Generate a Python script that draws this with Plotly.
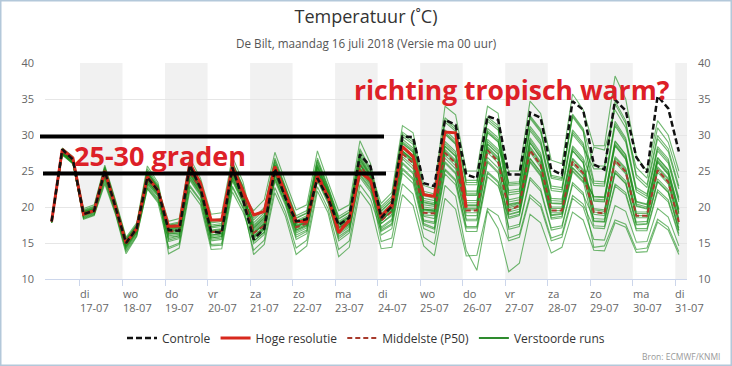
import pandas as pd
import plotly.graph_objects as go

# ---------------- data ----------------
tijden = pd.date_range("2018-07-16 08:00", periods=60, freq="6h")
dag_tikken = pd.date_range("2018-07-17", "2018-07-31", freq="D")
dag_namen = ["di", "wo", "do", "vr", "za", "zo", "ma", "di", "wo", "do", "vr", "za", "zo", "ma", "di"]
dag_datums = ["17-07", "18-07", "19-07", "20-07", "21-07", "22-07", "23-07", "24-07",
              "25-07", "26-07", "27-07", "28-07", "29-07", "30-07", "31-07"]
grijze_dagen = ["2018-07-17", "2018-07-19", "2018-07-21", "2018-07-23",
                "2018-07-25", "2018-07-27", "2018-07-29", "2018-07-31"]
y_ticks = [10, 15, 20, 25, 30, 35, 40]

controle = [18.0, 28.0, 26.6, 19.0, 19.5, 25.0, 20.0, 15.0, 17.0, 24.1, 22.3,
            16.8, 16.7, 25.8, 22.6, 16.6, 16.4, 25.5, 21.0, 15.5, 17.0,
            25.3, 21.2, 18.0, 18.3, 24.0, 21.2, 17.5, 18.5, 27.3, 25.6,
            18.5, 20.1, 29.8, 29.7, 23.3, 22.9, 32.1, 31.4, 24.5, 24.0,
            32.6, 32.1, 24.5, 24.5, 33.1, 32.4, 25.2, 24.5, 34.7, 33.5,
            25.9, 25.2, 34.9, 33.4, 26.9, 24.8, 35.4, 33.7, 27.7]

hoge_resolutie = [18.0, 28.0, 26.8, 19.0, 19.5, 25.0, 20.0, 15.0, 17.0, 24.2, 22.3,
                  17.3, 17.4, 26.0, 23.3, 18.2, 18.2, 25.6, 22.2, 18.9, 19.4,
                  25.6, 21.9, 18.0, 18.0, 24.3, 21.4, 16.4, 18.2, 24.9, 23.7,
                  18.7, 20.3, 28.4, 27.0, 21.7, 21.5, 30.4, 30.3, 19.9]

middelste = [18.0, 27.8, 26.5, 19.1, 19.5, 24.8, 20.0, 15.0, 16.9, 24.0, 22.2,
             16.6, 16.7, 24.9, 22.5, 16.5, 16.7, 25.0, 21.6, 16.4, 17.4,
             25.0, 21.5, 17.2, 17.7, 24.8, 21.6, 17.0, 17.9, 25.8, 23.7,
             18.1, 19.4, 27.4, 26.1, 19.2, 19.1, 27.5, 26.1, 19.5, 19.5,
             27.9, 26.3, 19.5, 20.2, 27.9, 25.8, 19.5, 19.5, 26.3, 24.7,
             19.3, 19.1, 26.5, 24.9, 18.8, 18.8, 25.1, 23.5, 17.9]

verstoorde_runs = [
    [18.1, 27.8, 26.3, 19.2, 19.6, 24.6, 19.8, 14.6, 16.8, 23.6, 21.8,
     16.3, 16.4, 24.6, 22.3, 16.1, 16.3, 24.6, 21.3,
     15.6, 16.8, 24.3, 20.9, 16.4, 17.1, 24.2, 21.1, 16.2, 17.2, 24.9, 22.9,
     15.2, 15.7, 23.2, 21.8, 15.8, 14.8, 23.0, 21.5, 14.0, 11.2, 19.5, 17.0,
     11.0, 12.2, 19.0, 17.8, 13.6, 14.4, 19.3, 18.2,
     14.0, 13.9, 17.8, 17.2, 13.7, 13.8, 17.9, 16.8, 13.4],
    [17.9, 27.5, 26.1, 18.8, 19.3, 24.2, 19.6, 14.3, 16.5, 23.2, 21.5,
     15.2, 15.6, 23.7, 21.5, 15.3, 15.5, 23.6, 20.5,
     13.4, 14.8, 22.0, 18.7, 13.4, 14.6, 22.2, 19.2, 13.1, 14.4, 22.2, 20.2,
     14.2, 14.4, 21.7, 20.2, 14.6, 13.2, 21.2, 19.7, 13.2, 13.3, 19.8, 18.8,
     15.3, 15.8, 21.3, 20.0, 15.3, 15.8, 21.2, 20.0,
     15.5, 15.4, 20.2, 19.4, 15.1, 15.2, 19.8, 18.6, 14.6],
    [18.0, 27.9, 26.6, 19.0, 19.4, 24.9, 20.1, 15.1, 17.1, 24.3, 22.4,
     14.2, 14.8, 22.8, 20.8, 14.6, 14.7, 22.7, 19.8,
     14.0, 15.4, 22.7, 19.3, 14.3, 15.4, 22.8, 19.8, 14.1, 15.3, 23.1, 21.1,
     16.6, 17.5, 25.2, 23.8, 17.5, 16.9, 25.1, 23.6, 17.1, 17.1, 24.7, 23.4,
     17.2, 17.6, 24.1, 22.5, 17.1, 17.4, 23.4, 22.0,
     14.4, 14.6, 18.2, 17.6, 14.1, 14.3, 18.3, 17.2, 13.8],
    [18.2, 27.6, 26.4, 19.4, 19.8, 25.3, 20.3, 15.3, 17.3, 24.6, 22.6,
     16.0, 16.2, 24.4, 22.1, 15.9, 16.1, 24.3, 21.1,
     14.9, 16.2, 23.6, 20.2, 15.5, 16.3, 23.6, 20.5, 15.3, 16.4, 24.1, 22.1,
     17.2, 18.3, 26.2, 24.8, 18.2, 17.9, 26.3, 24.8, 18.3, 18.3, 26.4, 24.9,
     15.7, 16.2, 21.7, 20.4, 15.7, 16.2, 21.6, 20.4,
     17.1, 17.0, 22.9, 21.7, 16.7, 16.7, 22.1, 20.7, 16.0],
    [17.8, 27.2, 26.0, 18.5, 19.0, 23.8, 19.3, 14.0, 16.2, 23.0, 21.2,
     16.8, 17.0, 25.2, 22.8, 16.8, 17.0, 25.2, 21.9,
     16.0, 17.2, 24.8, 21.3, 17.0, 17.6, 24.6, 21.5, 16.8, 17.8, 25.5, 23.5,
     16.1, 17.0, 24.7, 23.3, 17.0, 16.4, 24.6, 23.1, 16.6, 16.6, 24.2, 22.9,
     18.6, 19.0, 26.4, 24.5, 18.5, 18.7, 25.1, 23.6,
     17.4, 17.3, 23.2, 22.0, 17.0, 17.0, 22.4, 21.0, 16.3],
    [18.0, 27.7, 26.5, 19.1, 19.5, 25.0, 20.0, 14.9, 17.0, 24.0, 22.2,
     13.5, 14.3, 22.3, 20.3, 14.1, 14.2, 22.1, 19.3,
     15.2, 16.5, 23.9, 20.5, 15.8, 16.6, 23.9, 20.8, 15.6, 16.7, 24.4, 22.4,
     18.1, 19.4, 27.4, 26.1, 19.3, 19.2, 27.6, 26.1, 19.6, 19.6, 28.0, 26.5,
     16.9, 17.3, 23.8, 22.2, 16.8, 17.1, 23.1, 21.7,
     18.4, 18.3, 25.1, 23.6, 17.9, 18.0, 23.9, 22.4, 17.1],
    [18.3, 28.1, 26.8, 19.5, 20.0, 25.5, 20.6, 15.5, 17.5, 25.0, 22.9,
     17.2, 17.4, 25.7, 23.2, 17.5, 17.7, 25.8, 22.4,
     16.7, 18.0, 25.4, 21.7, 17.5, 18.1, 25.2, 21.9, 17.3, 18.3, 26.2, 24.0,
     17.7, 18.8, 26.7, 25.3, 18.7, 18.4, 26.8, 25.3, 18.8, 18.8, 26.9, 25.4,
     19.6, 20.0, 27.9, 25.8, 19.5, 19.5, 26.3, 24.7,
     18.1, 18.0, 24.8, 23.3, 17.6, 17.7, 23.6, 22.1, 16.8],
    [17.9, 27.4, 26.2, 18.7, 19.2, 24.4, 19.7, 14.5, 16.6, 23.4, 21.9,
     16.7, 16.8, 25.0, 22.7, 16.5, 16.7, 25.0, 21.7,
     15.8, 17.0, 24.6, 21.1, 16.8, 17.4, 24.4, 21.3, 16.6, 17.6, 25.3, 23.3,
     18.5, 19.8, 28.1, 26.9, 20.0, 19.8, 28.8, 27.4, 20.6, 20.6, 29.1, 27.7,
     18.9, 19.3, 26.7, 24.8, 18.8, 19.0, 25.4, 23.9,
     19.3, 19.1, 26.5, 24.9, 18.8, 18.8, 25.1, 23.5, 17.9],
    [18.1, 27.8, 26.7, 19.3, 19.7, 24.8, 20.2, 15.2, 17.2, 24.8, 22.8,
     16.2, 16.4, 24.6, 22.3, 16.1, 16.3, 24.5, 21.3,
     17.5, 18.9, 26.0, 22.3, 18.1, 18.8, 26.0, 22.4, 18.0, 18.9, 27.1, 24.6,
     17.7, 19.0, 27.0, 25.7, 18.9, 18.8, 27.2, 25.7, 19.2, 19.2, 27.6, 26.1,
     20.7, 21.0, 29.3, 27.2, 20.9, 20.8, 28.2, 26.5,
     19.6, 19.4, 26.8, 25.2, 19.1, 19.1, 25.4, 23.8, 18.2],
    [18.0, 27.6, 26.3, 18.9, 19.4, 24.7, 19.9, 14.8, 16.9, 23.8, 22.0,
     17.6, 17.9, 26.2, 23.6, 18.2, 18.4, 26.3, 22.9,
     15.8, 17.0, 24.5, 21.1, 16.6, 17.3, 24.4, 21.3, 16.4, 17.4, 25.1, 23.1,
     18.2, 19.5, 27.8, 26.6, 19.7, 19.5, 28.5, 27.1, 20.3, 20.3, 28.8, 27.4,
     19.9, 20.3, 28.2, 26.1, 19.8, 19.8, 26.6, 25.0,
     21.1, 21.0, 28.8, 26.9, 20.4, 20.0, 26.5, 24.8, 19.3],
    [18.2, 28.0, 26.9, 19.6, 20.1, 25.6, 20.8, 15.6, 17.6, 25.3, 23.1,
     16.6, 16.8, 25.0, 22.6, 16.6, 16.8, 25.0, 21.7,
     16.9, 18.2, 25.6, 21.9, 17.7, 18.3, 25.4, 22.1, 17.5, 18.5, 26.4, 24.2,
     19.1, 20.5, 29.1, 27.9, 20.9, 20.6, 30.4, 29.0, 21.9, 21.9, 30.6, 29.3,
     20.4, 20.7, 29.0, 26.9, 20.6, 20.5, 27.9, 26.2,
     19.0, 18.8, 26.2, 24.6, 18.5, 18.5, 24.8, 23.2, 17.6],
    [17.9, 27.3, 26.0, 18.6, 19.1, 24.1, 19.5, 14.2, 16.4, 22.8, 21.0,
     15.4, 15.8, 23.9, 21.7, 15.5, 15.7, 23.8, 20.7,
     18.5, 19.9, 26.8, 22.8, 18.8, 19.5, 26.8, 22.9, 18.7, 19.6, 28.1, 25.3,
     18.3, 19.6, 27.6, 26.3, 19.5, 19.4, 27.8, 26.3, 19.8, 19.8, 28.2, 26.7,
     22.0, 22.2, 30.9, 29.0, 22.6, 22.4, 30.4, 28.6,
     20.8, 20.7, 28.5, 26.6, 20.1, 19.7, 26.2, 24.5, 19.0],
    [18.0, 27.7, 26.4, 19.0, 19.5, 25.1, 20.2, 15.0, 17.0, 24.2, 22.3,
     17.0, 17.2, 25.5, 23.0, 17.3, 17.5, 25.6, 22.2,
     16.3, 17.5, 25.1, 21.6, 17.3, 17.9, 24.9, 21.8, 17.1, 18.1, 25.8, 23.8,
     18.8, 20.2, 28.8, 27.6, 20.6, 20.3, 30.1, 28.7, 21.6, 21.6, 30.3, 29.0,
     22.3, 22.5, 31.2, 29.3, 22.9, 22.7, 30.7, 28.9,
     23.3, 23.2, 31.6, 29.3, 22.4, 21.5, 28.1, 26.4, 21.0],
    [18.1, 27.9, 26.6, 19.2, 19.7, 25.2, 20.4, 15.3, 17.4, 24.9, 22.7,
     18.0, 18.4, 26.8, 24.0, 19.0, 19.2, 27.0, 23.5,
     17.3, 18.7, 25.8, 22.1, 17.9, 18.6, 25.8, 22.2, 17.8, 18.7, 26.9, 24.4,
     19.8, 21.2, 30.1, 29.0, 21.9, 21.5, 32.1, 30.8, 23.4, 23.4, 32.2, 31.0,
     21.0, 21.3, 29.6, 27.5, 21.2, 21.1, 28.5, 26.8,
     23.0, 22.9, 31.3, 29.0, 22.1, 21.2, 27.8, 26.1, 20.7],
    [18.4, 28.2, 27.0, 19.8, 20.3, 25.8, 21.0, 15.8, 17.8, 25.7, 23.4,
     16.6, 16.7, 24.9, 22.6, 16.4, 16.6, 24.9, 21.6,
     19.5, 21.0, 27.6, 23.5, 19.6, 20.3, 27.8, 23.5, 19.5, 20.3, 29.2, 26.0,
     19.4, 20.8, 29.4, 28.2, 21.2, 20.9, 30.7, 29.3, 22.2, 22.2, 30.9, 29.6,
     23.4, 23.5, 32.7, 30.8, 24.4, 24.1, 32.9, 30.9,
     25.7, 25.7, 34.7, 32.0, 24.5, 23.1, 29.9, 28.1, 22.9],
    [17.8, 27.3, 26.1, 18.4, 18.9, 23.5, 19.2, 13.8, 16.0, 22.6, 20.8,
     17.1, 17.3, 25.5, 23.1, 17.1, 17.3, 25.5, 22.2,
     16.4, 17.7, 25.1, 21.4, 17.2, 17.8, 24.9, 21.6, 17.0, 18.0, 25.9, 23.7,
     19.5, 20.9, 29.8, 28.7, 21.6, 21.2, 31.8, 30.5, 23.1, 23.1, 31.9, 30.7,
     23.0, 23.1, 32.3, 30.4, 24.0, 23.7, 32.5, 30.5,
     23.6, 23.5, 31.9, 29.6, 22.7, 21.8, 28.4, 26.7, 21.3],
    [18.0, 27.8, 26.5, 19.1, 19.6, 24.9, 20.1, 15.0, 17.1, 24.1, 22.1,
     17.4, 17.7, 26.0, 23.4, 18.0, 18.2, 26.1, 22.7,
     17.8, 19.2, 26.3, 22.6, 18.4, 19.1, 26.3, 22.7, 18.3, 19.2, 27.4, 24.9,
     20.5, 22.0, 31.3, 30.3, 23.0, 22.5, 34.0, 32.8, 25.0, 25.0, 34.0, 33.0,
     21.7, 21.9, 30.6, 28.7, 22.3, 22.1, 30.1, 28.3,
     25.3, 25.3, 34.3, 31.6, 24.1, 22.7, 29.5, 27.7, 22.5],
    [18.1, 27.6, 26.3, 19.0, 19.4, 24.5, 19.8, 14.7, 16.7, 23.7, 21.7,
     15.8, 16.0, 24.2, 21.9, 15.7, 15.9, 24.1, 20.9,
     18.2, 19.6, 26.5, 22.5, 18.5, 19.2, 26.5, 22.6, 18.4, 19.3, 27.8, 25.0,
     18.8, 20.1, 28.4, 27.2, 20.3, 20.1, 29.1, 27.7, 20.9, 20.9, 29.4, 28.0,
     25.0, 25.0, 34.7, 33.0, 26.5, 26.0, 35.7, 33.5,
     28.5, 28.5, 38.2, 35.0, 27.0, 25.0, 32.0, 30.0, 25.0],
    [18.2, 28.0, 26.7, 19.4, 19.9, 25.4, 20.5, 15.4, 17.4, 24.7, 22.5,
     17.5, 17.7, 26.0, 23.5, 17.8, 18.0, 26.1, 22.7,
     15.3, 16.5, 24.0, 20.6, 16.1, 16.8, 23.9, 20.8, 15.9, 16.9, 24.6, 22.6,
     20.1, 21.5, 30.4, 29.3, 22.2, 21.8, 32.4, 31.1, 23.7, 23.7, 32.5, 31.3,
     19.3, 19.7, 27.6, 25.5, 19.2, 19.2, 26.0, 24.4,
     21.4, 21.3, 29.1, 27.2, 20.7, 20.3, 26.8, 25.1, 19.6],
    [17.8, 27.4, 26.2, 18.3, 18.8, 23.2, 19.0, 13.5, 15.9, 22.5, 20.6,
     14.4, 15.0, 23.0, 21.0, 14.8, 14.9, 22.9, 20.0,
     17.1, 18.4, 25.8, 22.1, 17.9, 18.5, 25.6, 22.3, 17.7, 18.7, 26.6, 24.4,
     17.0, 18.1, 26.0, 24.6, 18.0, 17.7, 26.1, 24.6, 18.1, 18.1, 26.2, 24.7,
     18.4, 18.8, 26.2, 24.3, 18.3, 18.5, 24.9, 23.4,
     28.3, 27.9, 33.5, 31.0, 25.5, 24.0, 31.0, 29.0, 24.0],
    [18.0, 27.6, 26.4, 19.1, 19.5, 24.9, 20.0, 14.9, 16.9, 23.9, 22.1,
     16.9, 17.0, 25.2, 22.9, 16.7, 16.9, 25.2, 21.9,
     16.4, 17.6, 25.2, 21.7, 17.4, 18.0, 25.0, 21.9, 17.2, 18.2, 25.9, 23.9,
     18.5, 19.8, 27.8, 26.5, 19.7, 19.6, 28.0, 26.5, 20.0, 20.0, 28.4, 26.9,
     20.1, 20.5, 28.4, 26.3, 20.0, 20.0, 26.8, 25.2,
     19.8, 19.6, 27.0, 25.4, 19.3, 19.3, 25.6, 24.0, 18.4],
    [18.1, 27.9, 26.5, 19.3, 19.6, 25.0, 20.3, 15.1, 17.0, 24.4, 22.4,
     16.4, 16.6, 24.8, 22.4, 16.4, 16.6, 24.8, 21.5,
     17.1, 18.5, 25.6, 21.9, 17.7, 18.4, 25.6, 22.0, 17.6, 18.5, 26.7, 24.2,
     18.1, 19.4, 27.7, 26.5, 19.6, 19.4, 28.4, 27.0, 20.2, 20.2, 28.7, 27.3,
     20.3, 20.6, 28.9, 26.8, 20.5, 20.4, 27.8, 26.1,
     18.0, 17.9, 24.7, 23.2, 17.5, 17.6, 23.5, 22.0, 16.7],
    [17.9, 27.5, 26.2, 18.9, 19.3, 24.3, 19.7, 14.5, 16.6, 23.3, 21.6,
     15.6, 16.0, 24.1, 21.9, 15.7, 15.9, 24.0, 20.9,
     16.0, 17.2, 24.7, 21.3, 16.8, 17.5, 24.6, 21.5, 16.6, 17.6, 25.3, 23.3,
     16.8, 17.7, 25.4, 24.0, 17.7, 17.1, 25.3, 23.8, 17.3, 17.3, 24.9, 23.6,
     19.0, 19.4, 26.8, 24.9, 18.9, 19.1, 25.5, 24.0,
     21.5, 21.4, 29.2, 27.3, 20.8, 20.4, 26.9, 25.2, 19.7],
    [18.2, 27.9, 26.6, 19.3, 19.8, 25.2, 20.4, 15.3, 17.2, 24.5, 22.6,
     17.0, 17.2, 25.5, 23.0, 17.3, 17.5, 25.6, 22.2,
     16.5, 17.8, 25.2, 21.5, 17.3, 17.9, 25.0, 21.7, 17.1, 18.1, 26.0, 23.8,
     18.9, 20.3, 28.9, 27.7, 20.7, 20.4, 30.2, 28.8, 21.7, 21.7, 30.4, 29.1,
     23.2, 23.3, 32.5, 30.6, 24.2, 23.9, 32.7, 30.7,
     20.9, 20.8, 28.6, 26.7, 20.2, 19.8, 26.3, 24.6, 19.1],
]

# ---------------- figure ----------------
FONT = "Open Sans, Arial, sans-serif"
W, H = 732, 366
ML, MR, MT, MB = 45, 45, 63, 87
PW, PH = W - ML - MR, H - MT - MB


def px_x(p):  # pixel -> paper x (for decorations outside the data)
    return (p - ML) / PW


def px_y(p):  # pixel -> paper y
    return (H - MB - p) / PH


fig = go.Figure()

for k, run in enumerate(verstoorde_runs):
    fig.add_trace(go.Scatter(
        x=tijden, y=run, mode="lines",
        line=dict(color="rgba(25,140,25,0.62)", width=1.1),
        name="Verstoorde runs", legendgroup="runs", showlegend=False,
        hoverinfo="skip"))

# legend entry for the perturbed runs
fig.add_trace(go.Scatter(
    x=[None], y=[None], mode="lines", line=dict(color="#2e8b2e", width=2),
    name="Verstoorde runs", legendgroup="runs", legendrank=4))

fig.add_trace(go.Scatter(
    x=tijden, y=middelste, mode="lines",
    line=dict(color="#a83a2c", width=2, dash="5px,3px"),
    name="Middelste (P50)", legendrank=3))

fig.add_trace(go.Scatter(
    x=tijden[:len(hoge_resolutie)], y=hoge_resolutie, mode="lines",
    line=dict(color="#d8281d", width=3),
    name="Hoge resolutie", legendrank=2))

fig.add_trace(go.Scatter(
    x=tijden, y=controle, mode="lines", yaxis="y2",
    line=dict(color="#111111", width=2.5, dash="6px,3px"),
    name="Controle", legendrank=1))

shapes = []
for d in grijze_dagen:
    start = pd.Timestamp(d)
    shapes.append(dict(type="rect", xref="x", yref="paper",
                       x0=start, x1=start + pd.Timedelta(days=1), y0=0, y1=1,
                       fillcolor="#f1f1f1", line=dict(width=0), layer="below"))

# hand-drawn black marker lines (25-30 degrees band)
shapes.append(dict(type="line", xref="paper", yref="y",
                   x0=px_x(40), x1=px_x(384), y0=29.8, y1=29.8,
                   line=dict(color="black", width=4)))
shapes.append(dict(type="line", xref="paper", yref="y",
                   x0=px_x(43), x1=px_x(386), y0=24.65, y1=24.65,
                   line=dict(color="black", width=4)))

# screenshot frame
shapes.append(dict(type="rect", xref="paper", yref="paper",
                   x0=px_x(0.75), x1=px_x(731.25), y0=px_y(365.25), y1=px_y(0.75),
                   line=dict(color="#b3c8da", width=1.5), fillcolor="rgba(0,0,0,0)"))

annotations = []
for t, naam, datum in zip(dag_tikken, dag_namen, dag_datums):
    annotations.append(dict(
        x=t, xref="x", y=px_y(284), yref="paper", xanchor="left", yanchor="top",
        xshift=-2, text=f"{naam}<br>{datum}", align="left", showarrow=False,
        font=dict(family=FONT, size=11, color="#666666")))

annotations.append(dict(
    x=0.5, xref="paper", y=px_y(43), yref="paper", xanchor="center", yanchor="middle",
    text="De Bilt, maandag 16 juli 2018 (Versie ma 00 uur)", showarrow=False,
    font=dict(family=FONT, size=11.7, color="#555555")))

annotations.append(dict(
    x="2018-07-16 19:30", xref="x", y=27.2, yref="y", xanchor="left", yanchor="middle",
    text="25-30 graden", showarrow=False,
    font=dict(family=FONT, size=27, color="#dd2027", weight=700)))

annotations.append(dict(
    x="2018-07-23 09:30", xref="x", y=36.3, yref="y", xanchor="left", yanchor="middle",
    text="richting tropisch warm?", showarrow=False,
    font=dict(family=FONT, size=26.5, color="#dd2027", weight=700)))

annotations.append(dict(
    x=px_x(722), xref="paper", y=px_y(356), yref="paper", xanchor="right", yanchor="middle",
    text="Bron: ECMWF/KNMI", showarrow=False,
    font=dict(family=FONT, size=8.5, color="#999999")))

axis_font = dict(family=FONT, size=11, color="#666666")

fig.update_layout(
    width=W, height=H,
    margin=dict(l=ML, r=MR, t=MT, b=MB),
    paper_bgcolor="white", plot_bgcolor="white",
    font=dict(family=FONT, size=11, color="#666666"),
    title=dict(text="Temperatuur (˚C)", x=0.5, xref="paper", xanchor="center",
               y=1 - 17 / H, yref="container", yanchor="middle",
               font=dict(family=FONT, size=18, color="#333333")),
    xaxis=dict(range=["2018-07-16 04:15", "2018-07-31 06:36"],
               tickvals=list(dag_tikken), showticklabels=False,
               ticks="outside", ticklen=6, tickcolor="#ccd6eb",
               showgrid=False, zeroline=False,
               showline=True, linecolor="#ccd6eb", linewidth=1),
    yaxis=dict(range=[10, 40], tickvals=y_ticks, ticks="",
               gridcolor="#e6e6e6", gridwidth=1, zeroline=False,
               tickfont=axis_font, ticklabelstandoff=10),
    yaxis2=dict(range=[10, 40], tickvals=y_ticks, ticks="", overlaying="y",
                side="right", showgrid=False, zeroline=False,
                tickfont=axis_font, ticklabelstandoff=10),
    legend=dict(orientation="h", x=0.5, xanchor="center",
                y=px_y(338), yanchor="middle",
                font=dict(family=FONT, size=12, color="#333333"),
                bgcolor="rgba(0,0,0,0)", traceorder="normal"),
    shapes=shapes,
    annotations=annotations,
    hovermode="closest",
)

fig.write_html(
    "out.html",
    config={"displayModeBar": False},
    post_script="document.body.style.margin='0';document.body.style.padding='0';"
                "document.body.style.overflow='hidden';")
